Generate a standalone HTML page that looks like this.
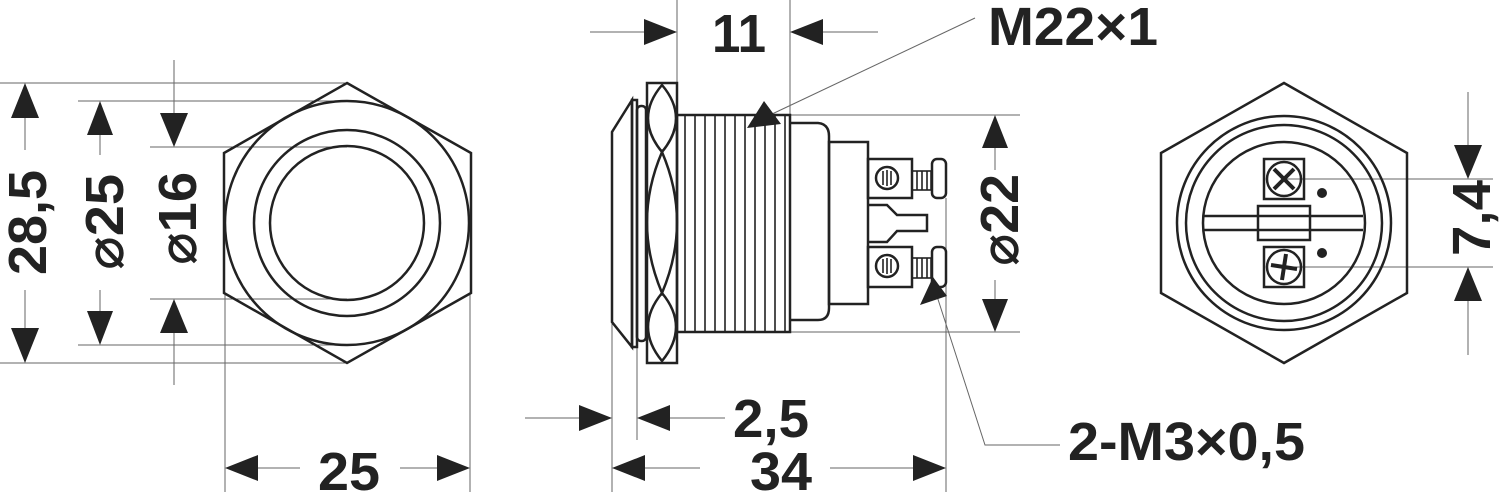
<!DOCTYPE html>
<html><head><meta charset="utf-8"><style>html,body{margin:0;padding:0;background:#fff}svg{display:block}</style></head>
<body>
<svg width="1499" height="497" viewBox="0 0 1499 497" xmlns="http://www.w3.org/2000/svg">
<g stroke="#666" stroke-width="1" fill="none">
<line x1="0" y1="83" x2="347" y2="83"/><line x1="0" y1="363" x2="347" y2="363"/>
<line x1="78" y1="101" x2="347" y2="101"/><line x1="78" y1="345" x2="347" y2="345"/>
<line x1="150" y1="147" x2="347" y2="147"/><line x1="150" y1="299" x2="347" y2="299"/>
<line x1="225" y1="293" x2="225" y2="492"/><line x1="470" y1="293" x2="470" y2="492"/>
<line x1="25" y1="118" x2="25" y2="150"/><line x1="25" y1="290" x2="25" y2="328"/>
<line x1="100" y1="135" x2="100" y2="155"/><line x1="100" y1="290" x2="100" y2="311"/>
<line x1="174" y1="60" x2="174" y2="113"/><line x1="174" y1="333" x2="174" y2="385"/>
<line x1="258" y1="468" x2="300" y2="468"/><line x1="400" y1="468" x2="437" y2="468"/>
<line x1="677" y1="0" x2="677" y2="83"/><line x1="790" y1="0" x2="790" y2="115"/>
<line x1="590" y1="32" x2="644" y2="32"/><line x1="823" y1="32" x2="878" y2="32"/>
<line x1="790" y1="115" x2="1020" y2="115"/><line x1="790" y1="332" x2="1020" y2="332"/>
<line x1="995" y1="148" x2="995" y2="170"/><line x1="995" y1="280" x2="995" y2="299"/>
<line x1="612" y1="322" x2="612" y2="492"/><line x1="637" y1="347" x2="637" y2="440"/>
<line x1="946" y1="198" x2="946" y2="492"/>
<line x1="525" y1="418" x2="579" y2="418"/><line x1="670" y1="418" x2="725" y2="418"/>
<line x1="645" y1="468" x2="700" y2="468"/><line x1="830" y1="468" x2="913" y2="468"/>
<line x1="770" y1="115" x2="975" y2="18"/>
<polyline points="935,290 985,445 1060,445"/>
<line x1="1284" y1="179" x2="1493" y2="179"/><line x1="1284" y1="267" x2="1493" y2="267"/>
<line x1="1468" y1="92" x2="1468" y2="145"/><line x1="1468" y1="301" x2="1468" y2="355"/>
</g>
<g fill="#222">
<polygon points="25,83 11,118 39,118"/><polygon points="25,363 11,328 39,328"/>
<polygon points="100,101 87,135 113,135"/><polygon points="100,345 87,311 113,311"/>
<polygon points="174,147 160,113 188,113"/><polygon points="174,299 160,333 188,333"/>
<polygon points="225,468 258,455 258,481"/><polygon points="470,468 437,455 437,481"/>
<polygon points="677,32 644,19 644,45"/><polygon points="790,32 823,19 823,45"/>
<polygon points="612,418 579,405 579,431"/><polygon points="637,418 670,405 670,431"/>
<polygon points="612,468 645,455 645,481"/><polygon points="946,468 913,455 913,481"/>
<polygon points="995,115 982,148 1008,148"/><polygon points="995,332 982,299 1008,299"/>
<polygon points="1468,179 1454,145 1482,145"/><polygon points="1468,267 1454,301 1482,301"/>
<polygon points="747,128 764,101 781,124"/>
<polygon points="920,305 933,277 947,296"/>
<circle cx="1322" cy="193" r="5"/><circle cx="1322" cy="253" r="5"/>
</g>
<g stroke="#222" stroke-width="2.5" fill="none">
<polygon points="347,83 471,153 471,293 347,363 224,293 224,153"/>
<circle cx="347" cy="223" r="122"/><circle cx="347" cy="223" r="93"/><circle cx="347" cy="223" r="77"/>
<polygon points="632,100 612,132 612,322 632,347"/>
<rect x="632" y="100" width="5" height="247"/>
<rect x="637" y="106" width="9" height="235" rx="4"/>
<rect x="647" y="83" width="30" height="280"/>
<path d="M662,85 Q634,118 662,152 Q690,118 662,85 Z"/>
<path d="M662,152 Q632,222 662,293 Q692,222 662,152 Z"/>
<path d="M662,293 Q634,327 662,361 Q690,327 662,293 Z"/>
<rect x="677" y="115" width="113" height="217"/>
<path d="M790,123 L818,123 Q829,124 829,136 L829,308 Q829,320 818,320 L790,320"/>
<rect x="829" y="142" width="39" height="162"/>
<rect x="868" y="159" width="44" height="39"/><circle cx="887" cy="178" r="11"/>
<rect x="868" y="247" width="44" height="40"/><circle cx="887" cy="266" r="11"/>
<rect x="932" y="159" width="14" height="39" rx="5"/><rect x="932" y="247" width="14" height="40" rx="5"/>
<polyline points="868,205 887,205 897,215 927,215 927,231 897,231 887,242 868,242"/>
<polygon points="1284,83 1407,153 1407,293 1284,363 1161,293 1161,153"/>
<circle cx="1284" cy="223" r="107"/><circle cx="1284" cy="223" r="98"/><circle cx="1284" cy="223" r="81"/>
<line x1="1203" y1="216" x2="1363" y2="216"/><line x1="1203" y1="230" x2="1363" y2="230"/>
<rect x="1258" y="206" width="52" height="34"/>
<rect x="1264" y="159" width="40" height="40"/><circle cx="1284" cy="179" r="17"/>
<rect x="1264" y="247" width="40" height="40"/><circle cx="1284" cy="267" r="17"/>
</g>
<g stroke="#222" stroke-width="1.6">
<line x1="685" y1="115" x2="685" y2="332"/><line x1="695" y1="115" x2="695" y2="332"/><line x1="705" y1="115" x2="705" y2="332"/><line x1="715" y1="115" x2="715" y2="332"/><line x1="725" y1="115" x2="725" y2="332"/><line x1="735" y1="115" x2="735" y2="332"/><line x1="745" y1="115" x2="745" y2="332"/><line x1="755" y1="115" x2="755" y2="332"/><line x1="765" y1="115" x2="765" y2="332"/><line x1="775" y1="115" x2="775" y2="332"/><line x1="785" y1="115" x2="785" y2="332"/>
<line x1="883" y1="171" x2="883" y2="185"/><line x1="887" y1="170" x2="887" y2="186"/><line x1="891" y1="171" x2="891" y2="185"/>
<line x1="883" y1="259" x2="883" y2="273"/><line x1="887" y1="258" x2="887" y2="274"/><line x1="891" y1="259" x2="891" y2="273"/>
<rect x="912" y="171" width="19" height="19" fill="none"/><line x1="917" y1="171" x2="917" y2="190"/><line x1="922" y1="171" x2="922" y2="190"/><line x1="927" y1="171" x2="927" y2="190"/>
<rect x="912" y="258" width="19" height="20" fill="none"/><line x1="917" y1="258" x2="917" y2="278"/><line x1="922" y1="258" x2="922" y2="278"/><line x1="927" y1="258" x2="927" y2="278"/>
</g>
<g stroke="#222" stroke-width="4">
<line x1="1274" y1="169" x2="1294" y2="189"/><line x1="1294" y1="169" x2="1274" y2="189"/>
<line x1="1271" y1="265" x2="1297" y2="269"/><line x1="1286" y1="254" x2="1282" y2="280"/>
</g>
<g font-family="'Liberation Sans Narrow','Liberation Sans','DejaVu Sans',sans-serif" font-size="54" font-weight="bold" fill="#222">
<text x="712" y="52" textLength="54" lengthAdjust="spacingAndGlyphs">11</text>
<text x="988" y="45" textLength="170" lengthAdjust="spacingAndGlyphs">M22×1</text>
<text x="733" y="437" textLength="76" lengthAdjust="spacingAndGlyphs">2,5</text>
<text x="750" y="490" textLength="62" lengthAdjust="spacingAndGlyphs">34</text>
<text x="318" y="490" textLength="62" lengthAdjust="spacingAndGlyphs">25</text>
<text x="1068" y="460" textLength="237" lengthAdjust="spacingAndGlyphs">2-M3×0,5</text>
<text transform="translate(46,275) rotate(-90)" textLength="105" lengthAdjust="spacingAndGlyphs">28,5</text>
<text transform="translate(123,270) rotate(-90)" textLength="96" lengthAdjust="spacingAndGlyphs">⌀25</text>
<text transform="translate(196,265) rotate(-90)" textLength="93" lengthAdjust="spacingAndGlyphs">⌀16</text>
<text transform="translate(1018,266) rotate(-90)" textLength="92" lengthAdjust="spacingAndGlyphs">⌀22</text>
<text transform="translate(1490,256) rotate(-90)" textLength="76" lengthAdjust="spacingAndGlyphs">7,4</text>
</g>
</svg>
</body></html>
